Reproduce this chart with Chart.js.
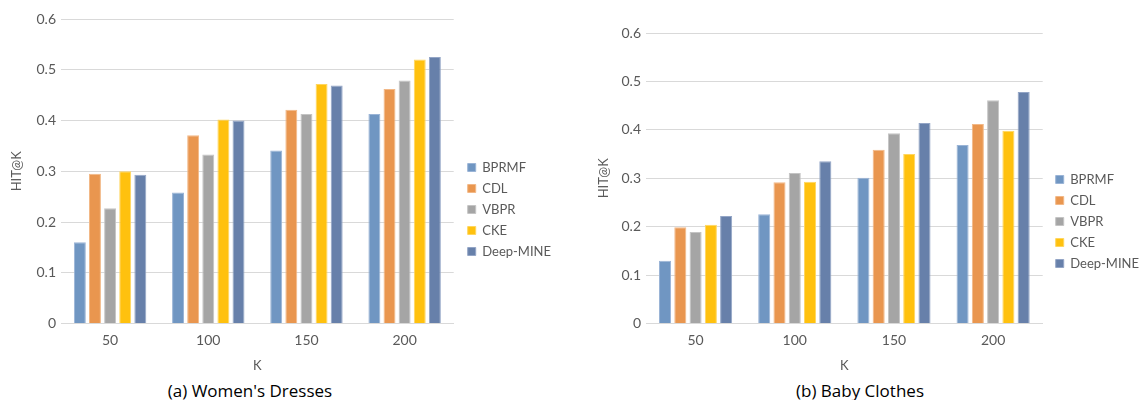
<!DOCTYPE html>
<html>
<head>
<meta charset="utf-8">
<script src="https://cdn.jsdelivr.net/npm/chart.js@4"></script>
<style>
body { margin: 0; background: #fff; width: 1140px; height: 400px; position: relative; overflow: hidden; font-family: Lato, sans-serif; }
.box { position: absolute; top: 0; height: 378px; }
.cap { position: absolute; top: 379px; width: 220px; font-family: 'Open Sans', sans-serif; font-size: 17px; color: #000; text-align: center; }
</style>
</head>
<body>
<div class="box" style="left:0;width:575px"><canvas id="dresses"></canvas></div>
<div class="box" style="left:575px;width:565px"><canvas id="baby"></canvas></div>
<div class="cap" style="left:140px">(a) Women's Dresses</div>
<div class="cap" style="left:750px">(b) Baby Clothes</div>
<script>
"use strict"

// categories and series
const kValues = ['50', '100', '150', '200'];
const methods = ['BPRMF', 'CDL', 'VBPR', 'CKE', 'Deep-MINE'];
const yTickLabels = ['0', '0.1', '0.2', '0.3', '0.4', '0.5', '0.6'];

// (a) Women's Dresses
const dressBPRMF = [0.160, 0.258, 0.341, 0.413];
const dressCDL = [0.295, 0.371, 0.421, 0.462];
const dressVBPR = [0.227, 0.333, 0.413, 0.479];
const dressCKE = [0.300, 0.402, 0.472, 0.520];
const dressMINE = [0.293, 0.400, 0.469, 0.525];

// (b) Baby Clothes
const babyBPRMF = [0.130, 0.226, 0.301, 0.369];
const babyCDL = [0.199, 0.292, 0.359, 0.412];
const babyVBPR = [0.189, 0.311, 0.393, 0.461];
const babyCKE = [0.204, 0.293, 0.350, 0.398];
const babyMINE = [0.222, 0.335, 0.414, 0.478];

const fills = ['#7096c2', '#e9964f', '#a5a5a5', '#ffc10e', '#6780aa'];
const edges = ['#9ab4d6', '#f2b887', '#c4c4c4', '#ffd65e', '#93a5c6'];
const grey = '#595959';

// moves the legend after layout so it sits where the original one does
const legendShift = {
    id: 'legendShift',
    afterLayout(chart, args, opts) {
        const lg = chart.legend;
        lg.left += opts.dx; lg.right += opts.dx;
        lg.top += opts.dy; lg.bottom += opts.dy;
    }
};

function buildChart(id, series, cfg) {
    new Chart(document.getElementById(id), {
        type: 'bar',
        data: {
            labels: kValues,
            datasets: series.map((vals, i) => ({
                label: methods[i],
                data: vals,
                backgroundColor: fills[i],
                borderColor: edges[i],
                borderWidth: 1,
                categoryPercentage: 0.77,
                barPercentage: 0.79
            }))
        },
        plugins: [legendShift],
        options: {
            responsive: true,
            maintainAspectRatio: false,
            animation: false,
            layout: { padding: { top: cfg.top, right: cfg.right, bottom: 0, left: 0 } },
            plugins: {
                legend: {
                    position: 'right',
                    labels: {
                        boxWidth: 8, boxHeight: 8, padding: 8,
                        color: grey, font: { family: 'Lato', size: 13 }
                    }
                },
                legendShift: { dx: cfg.dx, dy: cfg.dy },
                tooltip: { enabled: false }
            },
            scales: {
                x: {
                    grid: { display: false, drawTicks: false },
                    border: { color: '#d9d9d9' },
                    ticks: { color: grey, font: { family: 'Lato', size: 14 }, padding: 8 },
                    title: { display: true, text: 'K', color: grey, font: { family: 'Lato', size: 13 }, padding: { top: 2, bottom: 4 } }
                },
                y: {
                    min: 0, max: 0.6,
                    afterFit: (s) => { s.width = cfg.axisW; },
                    grid: { color: '#d9d9d9', drawTicks: false },
                    border: { display: false },
                    ticks: {
                        stepSize: 0.1, padding: 5, color: grey,
                        font: { family: 'Lato', size: 14 },
                        callback: (v, i) => yTickLabels[i]
                    },
                    title: { display: true, text: 'HIT@K', color: grey, font: { family: 'Lato', size: 13 }, padding: { top: cfg.titlePad, bottom: 0 } }
                }
            }
        }
    });
}

buildChart('dresses', [dressBPRMF, dressCDL, dressVBPR, dressCKE, dressMINE],
    { top: 19, right: 20, axisW: 61, titlePad: 9, dx: 6, dy: 11 });
buildChart('baby', [babyBPRMF, babyCDL, babyVBPR, babyCKE, babyMINE],
    { top: 33, right: -4, axisW: 71, titlePad: 21, dx: 5, dy: 16 });
</script>
</body>
</html>
